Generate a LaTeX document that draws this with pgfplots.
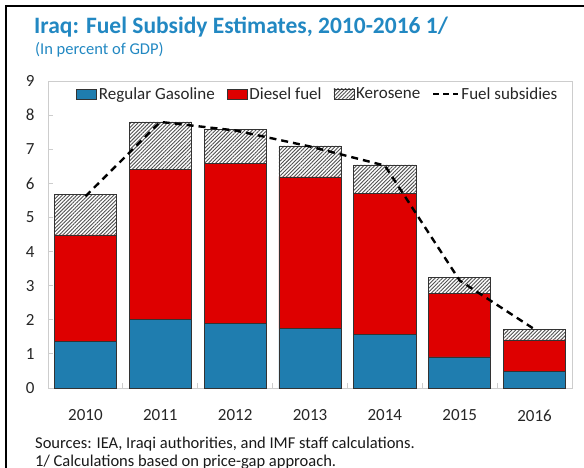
\documentclass[border=0pt]{standalone}
\usepackage{fontspec}
\setmainfont{Carlito}
\usepackage{pgfplots}
\pgfplotsset{compat=1.18}
\usetikzlibrary{patterns.meta}
\definecolor{gasblue}{RGB}{31,125,175}
\definecolor{dieselred}{RGB}{222,0,0}
\definecolor{titleblue}{RGB}{34,136,194}
\definecolor{framegray}{RGB}{205,205,205}
\definecolor{hatchgray}{RGB}{80,80,80}
\pgfplotsset{
  rectleg/.style={legend image code/.code={\draw[##1] (0pt,-5pt) rectangle (20pt,5pt);}},
  lineleg/.style={legend image code/.code={\draw[##1] (0pt,0pt) -- (25pt,0pt);}},
}

\begin{document}
\begin{tikzpicture}
\begin{axis}[
  at={(48pt,79pt)}, anchor=south west, scale only axis,
  width=524pt, height=307pt,
  xmin=-0.5, xmax=6.5, ymin=0, ymax=9,
  ybar stacked, bar width=0.83,
  axis line style={framegray, line width=0.8pt},
  xtick={0,...,6},
  xticklabels={2010,2011,2012,2013,2014,2015,2016},
  minor xtick={0.5,1.5,...,5.5},
  major x tick style={draw=none},
  minor x tick style={framegray, line width=0.8pt},
  ytick={0,...,9},
  y tick style={framegray, line width=0.8pt},
  tick align=inside, xtick pos=lower, ytick pos=left,
  major tick length=5pt, minor tick length=5pt,
  /pgf/number format/assume math mode=true,
  ticklabel style={font=\fontsize{17}{20}\selectfont, text=black!85},
  yticklabel style={xshift=-10pt},
  xticklabel style={yshift=-18pt},
  legend style={at={(0.515,0.99)}, anchor=north, draw=none, fill=none,
    font=\fontsize{17}{20}\selectfont, text=black!85,
    /tikz/every even column/.append style={column sep=10pt},
    inner sep=1pt},
  legend columns=-1,
  legend cell align=left,
]
\addplot[fill=gasblue, draw=black!80, line width=0.6pt, rectleg]
  coordinates {(0,1.36) (1,2.00) (2,1.90) (3,1.74) (4,1.58) (5,0.91) (6,0.49)};
\addlegendentry{Regular Gasoline}
\addplot[fill=dieselred, draw=black!80, line width=0.6pt, rectleg]
  coordinates {(0,3.13) (1,4.41) (2,4.69) (3,4.45) (4,4.12) (5,1.87) (6,0.92)};
\addlegendentry{Diesel fuel}
\addplot[fill=white, draw=black!80, line width=0.6pt,
  postaction={pattern={Lines[angle=45,distance=2.6pt,line width=0.9pt]}, pattern color=hatchgray},
  rectleg]
  coordinates {(0,1.19) (1,1.39) (2,0.98) (3,0.91) (4,0.84) (5,0.46) (6,0.30)};
\addlegendentry{Kerosene}
\addlegendimage{black, line width=2.2pt, dash pattern=on 6pt off 4pt, lineleg}
\addlegendentry{Fuel subsidies}
\end{axis}
\begin{axis}[
  at={(48pt,79pt)}, anchor=south west, scale only axis,
  width=524pt, height=307pt,
  xmin=-0.5, xmax=6.5, ymin=0, ymax=9,
  hide axis,
]
\addplot[black, line width=2.4pt, dash pattern=on 7pt off 5pt, mark=none]
  coordinates {(0,5.62) (1,7.80) (2,7.55) (3,7.08) (4,6.52) (5,3.15) (6,1.72)};
\end{axis}
\node[anchor=base west, inner sep=0pt, text=titleblue, font=\fontsize{23.5}{27}\selectfont\bfseries] at (34pt,433pt) {Iraq: Fuel Subsidy Estimates, 2010-2016 1/};
\node[anchor=base west, inner sep=0pt, text=titleblue, font=\fontsize{16.5}{19}\selectfont] at (35pt,412pt) {(In percent of GDP)};
\node[anchor=base west, inner sep=0pt, text=black!90, font=\fontsize{16.5}{19}\selectfont] at (35pt,19pt) {Sources: IEA, Iraqi authorities, and IMF staff calculations.};
\node[anchor=base west, inner sep=0pt, text=black!90, font=\fontsize{16.5}{19}\selectfont] at (35pt,1pt) {1/ Calculations based on price-gap approach.};
\draw[black, line width=2.5pt] (6pt,-20pt) rectangle (620pt,461pt);
\pgfresetboundingbox
\path[use as bounding box] (0pt,0pt) rectangle (584pt,467pt);
\end{tikzpicture}
\end{document}
